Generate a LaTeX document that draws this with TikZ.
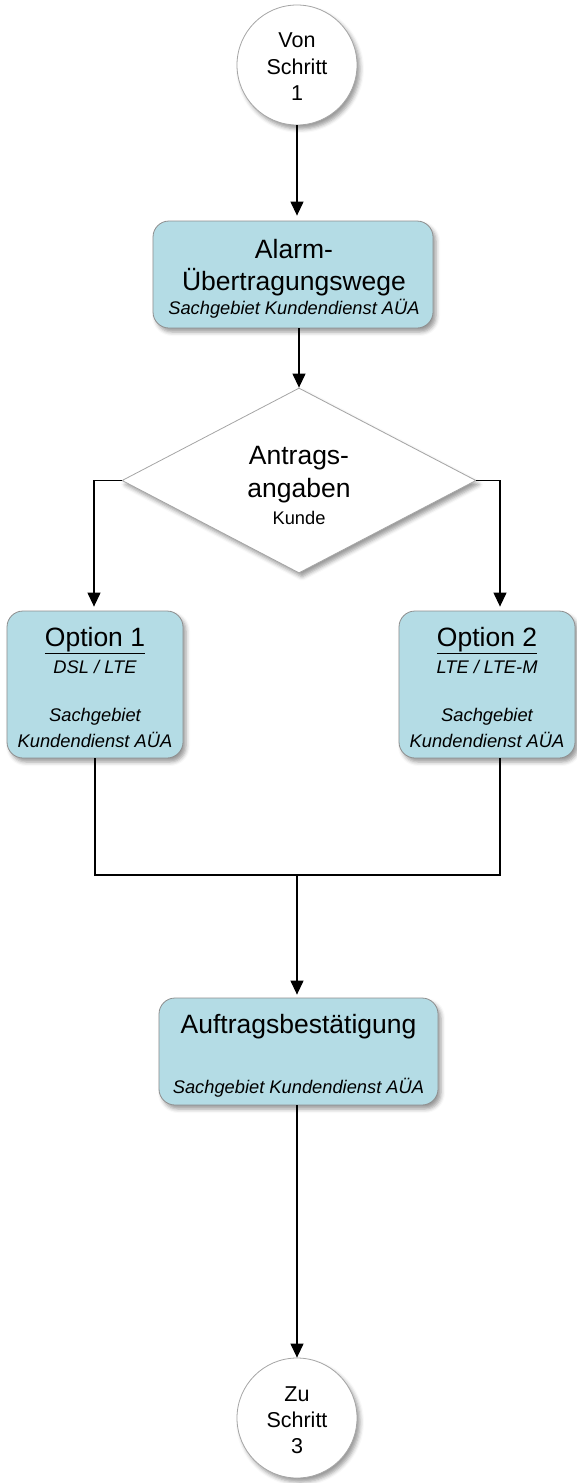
\documentclass[tikz,border=0pt]{standalone}
\usepackage{fontspec}
\setmainfont{Liberation Sans}
\usetikzlibrary{shapes.geometric,arrows.meta,shadows.blur,calc}
\definecolor{boxblue}{HTML}{B4DCE5}
\definecolor{edgegray}{HTML}{8E8E8E}
\newcommand\fbig{\fontsize{26.5}{30}\selectfont}
\newcommand\fsmall{\fontsize{18.3}{21}\selectfont}
\newcommand\fcirc{\fontsize{21.5}{25}\selectfont}
\begin{document}
\begin{tikzpicture}[x=1pt,y=-1pt,
  shad/.style={blur shadow={shadow xshift=3pt, shadow yshift=-4pt, shadow blur radius=4pt, shadow opacity=40}},
  boxst/.style={draw=edgegray, line width=0.8pt, fill=boxblue, rounded corners=16pt, inner sep=0pt, shad},
  circst/.style={circle, draw=edgegray!80, line width=0.8pt, fill=white, minimum size=120pt, inner sep=0pt, shad},
  diast/.style={diamond, draw=edgegray!80, line width=0.8pt, fill=white, minimum width=354pt, minimum height=185pt, inner sep=0pt, shad},
  conn/.style={line width=1.2pt, black},
  arr/.style={conn, -{Triangle[width=13pt,length=14pt]}},
  txt/.style={anchor=base, inner sep=0pt}]
\useasboundingbox (0,0) rectangle (576,1483);

% shapes
\node[circst] (c1) at (297,65) {};
\node[boxst, minimum width=280pt, minimum height=107pt] (a) at (293,274.5) {};
\node[diast] (d) at (299,480.5) {};
\node[boxst, minimum width=176pt, minimum height=147pt] (o1) at (95,684.5) {};
\node[boxst, minimum width=176pt, minimum height=147pt] (o2) at (487,684.5) {};
\node[boxst, minimum width=279pt, minimum height=107pt] (b3) at (298.5,1051.5) {};
\node[circst] (c2) at (297,1418) {};

% texts
\node[txt] (c1t1) at (297,47) {\fcirc Von};
\node[txt] (c1t2) at (297,74) {\fcirc Schritt};
\node[txt] (c1t3) at (297,100) {\fcirc 1};

\node[txt] (at1) at (294,258) {\fbig Alarm-};
\node[txt] (at2) at (294,290) {\fbig Übertragungswege};
\node[txt] (at3) at (294,314) {\fsmall\itshape Sachgebiet Kundendienst AÜA};

\node[txt] (dt1) at (299,464) {\fbig Antrags-};
\node[txt] (dt2) at (299,497) {\fbig angaben};
\node[txt] (dt3) at (299,524) {\fsmall Kunde};

\node[txt] (o1t1) at (95,646) {\fbig \underline{Option 1}};
\node[txt] (o1t2) at (95,673) {\fsmall\itshape DSL / LTE};
\node[txt] (o1t3) at (95,721) {\fsmall\itshape Sachgebiet};
\node[txt] (o1t4) at (95,747) {\fsmall\itshape Kundendienst AÜA};

\node[txt] (o2t1) at (487,646) {\fbig \underline{Option 2}};
\node[txt] (o2t2) at (487,673) {\fsmall\itshape LTE / LTE-M};
\node[txt] (o2t3) at (487,721) {\fsmall\itshape Sachgebiet};
\node[txt] (o2t4) at (487,747) {\fsmall\itshape Kundendienst AÜA};

\node[txt] (bt1) at (298.5,1033) {\fbig Auftragsbestätigung};
\node[txt] (bt2) at (298.5,1093) {\fsmall\itshape Sachgebiet Kundendienst AÜA};

\node[txt] (c2t1) at (297,1401) {\fcirc Zu};
\node[txt] (c2t2) at (297,1427) {\fcirc Schritt};
\node[txt] (c2t3) at (297,1453) {\fcirc 3};

% connectors
\coordinate (j) at (297,875);
\draw[arr, shorten >=5pt] (c1.south) -- (c1.south |- a.north);
\draw[arr] (d.north |- a.south) -- (d.north);
\draw[arr, shorten >=4pt] (d.west) -| ([xshift=-1pt]o1.north);
\draw[arr, shorten >=4pt] (d.east) -| ([xshift=13pt]o2.north);
\draw[conn] (o1.south) |- (j) -| ([xshift=13pt]o2.south);
\draw[arr, shorten >=3pt] (j) -- (j |- b3.north);
\draw[arr] (c2.north |- b3.south) -- (c2.north);
\end{tikzpicture}
\end{document}
